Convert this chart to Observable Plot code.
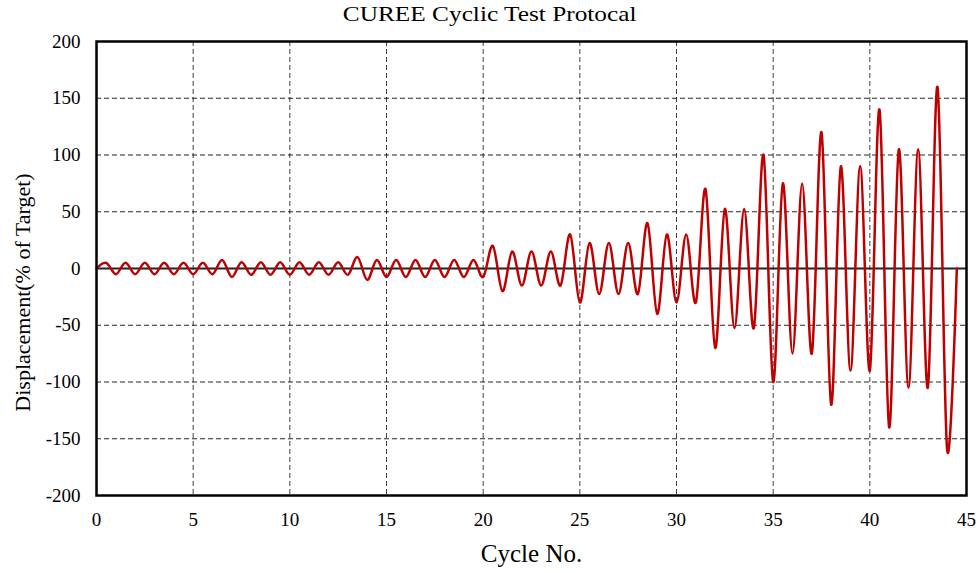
<!DOCTYPE html>
<html>
<head>
<meta charset="utf-8">
<script src="https://cdn.jsdelivr.net/npm/d3@7"></script>
<script src="https://cdn.jsdelivr.net/npm/@observablehq/plot@0.6"></script>
<style>
  body { margin: 0; background: #fff; font-family: "Liberation Serif", "Times New Roman", serif; }
  #title { height: 30px; line-height: 28px; text-align: center; color: #000; }
  #title span { display: inline-block; font-size: 22px; transform: scaleX(1.15); }
</style>
</head>
<body>
<div id="title"><span>CUREE Cyclic Test Protocal</span></div>
<div id="chart"></div>
<script>
// Peak displacement (% of target) of each cycle, in loading order
const initiationCycles = [5, 5, 5, 5, 5, 5];
const primaryAmplitudes = [7.5, 10, 20, 30, 40, 70, 100, 120, 140, 160];
const trailingAmplitudes = [5.6, 7.5, 15, 22.5, 30, 52.5, 75, 90, 105, null];
const trailingCounts = [6, 6, 3, 3, 2, 2, 2, 2, 2, 0];

// Axis ticks
const xTicks = [0, 5, 10, 15, 20, 25, 30, 35, 40, 45];
const yTicks = [-200, -150, -100, -50, 0, 50, 100, 150, 200];

// Amplitude of every cycle: initiation, then each primary followed by its trailing cycles
const amplitudes = [...initiationCycles];
primaryAmplitudes.forEach((p, i) => {
  amplitudes.push(p);
  for (let k = 0; k < trailingCounts[i]; k++) amplitudes.push(trailingAmplitudes[i]);
});

// Each cycle peaks half-way through and reaches its trough at the end
const points = [{cycle: 0, disp: 0}];
amplitudes.forEach((a, i) => {
  points.push({cycle: i + 0.5, disp: a});
  points.push({cycle: i + 1, disp: -a});
});
points.push({cycle: amplitudes.length + 0.5, disp: 0});

const serif = "'Liberation Serif', 'Times New Roman', serif";

const chart = Plot.plot({
  width: 979,
  height: 543,
  marginTop: 11,
  marginBottom: 78,
  marginLeft: 96,
  marginRight: 13,
  style: {fontFamily: serif, fontSize: "19px", color: "#000", background: "#fff"},
  x: {domain: [0, 45]},
  y: {domain: [-200, 200]},
  marks: [
    Plot.gridX(xTicks.slice(1, -1), {stroke: "#000", strokeOpacity: 0.75, strokeWidth: 1, strokeDasharray: "5,3"}),
    Plot.gridY(yTicks.filter(d => d !== 0 && Math.abs(d) !== 200), {stroke: "#000", strokeOpacity: 0.85, strokeWidth: 1, strokeDasharray: "5,3"}),
    Plot.ruleY([0], {stroke: "#222", strokeWidth: 2}),
    Plot.line(points, {x: "cycle", y: "disp", curve: "cardinal", stroke: "#c00000", strokeWidth: 2.5}),
    Plot.frame({stroke: "#000", strokeWidth: 2.5}),
    Plot.axisX(xTicks, {tickSize: 0, tickPadding: 17, label: null, tickFormat: d => String(d), fontFamily: serif}),
    Plot.axisY(yTicks, {tickSize: 0, tickPadding: 16, label: null, tickFormat: d => String(d), fontFamily: serif}),
    Plot.text(["Cycle No."], {frameAnchor: "bottom", dy: 58, lineAnchor: "middle", textAnchor: "middle", fontSize: 25, fontFamily: serif}),
    Plot.text(["Displacement(% of Target)"], {frameAnchor: "left", dx: -74, dy: 24, rotate: -90, textAnchor: "middle", lineAnchor: "middle", fontSize: 22, fontFamily: serif})
  ]
});
document.getElementById("chart").append(chart);
</script>
</body>
</html>
